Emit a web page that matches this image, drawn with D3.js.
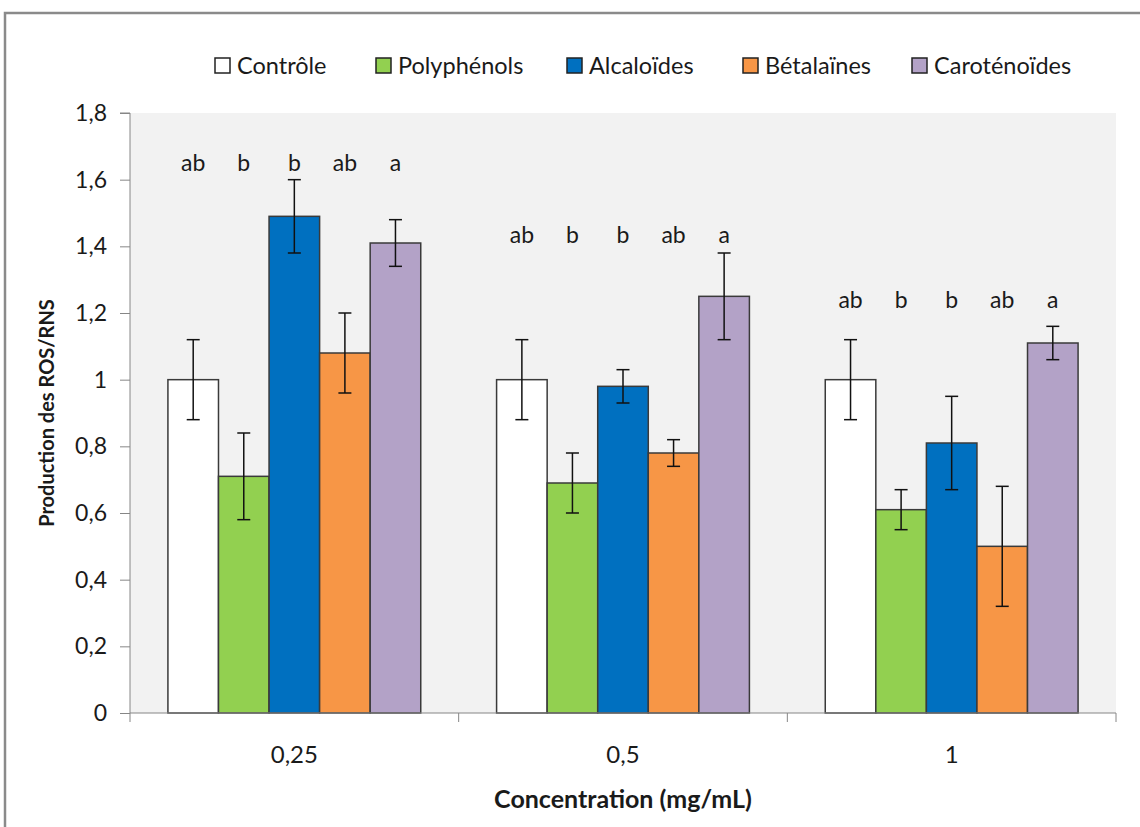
<!DOCTYPE html>
<meta charset="utf-8">
<script src="https://d3js.org/d3.v7.min.js"></script>
<style>
  body { margin: 0; background: #fff; }
  text { font-family: Lato, "Open Sans", sans-serif; fill: #1a1a1a; }
</style>
<svg id="chart" width="1140" height="827"></svg>
<script>

// Data
var categories = ["0,25", "0,5", "1"];
var seriesNames = ["Contrôle", "Polyphénols", "Alcaloïdes", "Bétalaïnes", "Caroténoïdes"];
var controle     = [1.00, 1.00, 1.00];
var polyphenols  = [0.71, 0.69, 0.61];
var alcaloides   = [1.49, 0.98, 0.81];
var betalaines   = [1.08, 0.78, 0.50];
var carotenoides = [1.41, 1.25, 1.11];
var controleErr     = [0.12, 0.12, 0.12];
var polyphenolsErr  = [0.13, 0.09, 0.06];
var alcaloidesErr   = [0.11, 0.05, 0.14];
var betalainesErr   = [0.12, 0.04, 0.18];
var carotenoidesErr = [0.07, 0.13, 0.05];
var letters = ["ab", "b", "b", "ab", "a"];
var letterLevels = [1.65, 1.435, 1.24];   // height of the letter row in each group
var yTicks = [0, 0.2, 0.4, 0.6, 0.8, 1, 1.2, 1.4, 1.6, 1.8];

var values = [controle, polyphenols, alcaloides, betalaines, carotenoides];
var errors = [controleErr, polyphenolsErr, alcaloidesErr, betalainesErr, carotenoidesErr];
var colors = ["#ffffff", "#92d050", "#0070c0", "#f79646", "#b3a2c7"];

var svg = d3.select("#chart");

// outer frame
svg.append("rect")
    .attr("x", 5).attr("y", 13)
    .attr("width", 1200).attr("height", 900)
    .attr("fill", "#fff")
    .attr("stroke", "#8a8a8a")
    .attr("stroke-width", 2.5);

var plotLeft = 130, plotRight = 1116, plotTop = 113, plotBottom = 713;

var x0 = d3.scaleBand().domain(categories).range([plotLeft, plotRight]);
var x1 = d3.scaleBand().domain(seriesNames).range([0, x0.bandwidth()])
    .paddingInner(0).paddingOuter(0.75);
var y = d3.scaleLinear().domain([0, 1.8]).range([plotBottom, plotTop]);

// plot background
svg.append("rect")
    .attr("x", plotLeft).attr("y", plotTop)
    .attr("width", plotRight - plotLeft).attr("height", plotBottom - plotTop)
    .attr("fill", "#f2f2f2");

// y axis
var yAxis = svg.append("g")
    .attr("transform", "translate(" + plotLeft + ",0)")
    .call(d3.axisLeft(y).tickValues(yTicks).tickSize(10).tickPadding(13)
      .tickFormat(function(d){ return String(d).replace(".", ","); }));
yAxis.select(".domain").attr("stroke", "#868686").attr("d", "M-10," + plotTop + "H0V" + plotBottom);
yAxis.selectAll(".tick line").attr("stroke", "#868686");
yAxis.selectAll("text").style("font-size", "23px").attr("fill", "#1a1a1a");

// bars
var rows = [];
categories.forEach(function(c, ci){
  seriesNames.forEach(function(s, si){
    rows.push({cat: c, ci: ci, s: s, si: si, v: values[si][ci], e: errors[si][ci]});
  });
});

svg.append("g").selectAll("rect")
  .data(rows)
  .enter()
  .append("rect")
    .attr("x", function(d){ return x0(d.cat) + x1(d.s); })
    .attr("y", function(d){ return y(d.v); })
    .attr("width", x1.bandwidth())
    .attr("height", function(d){ return y(0) - y(d.v); })
    .attr("fill", function(d){ return colors[d.si]; })
    .attr("stroke", "#3a3a3a")
    .attr("stroke-width", 1.5);

// error bars
var eb = svg.append("g").selectAll("g")
  .data(rows)
  .enter()
  .append("g")
    .attr("stroke", "#111")
    .attr("stroke-width", 1.5);
function cx(d){ return x0(d.cat) + x1(d.s) + x1.bandwidth() / 2; }
eb.append("line")
    .attr("x1", cx).attr("x2", cx)
    .attr("y1", function(d){ return y(d.v + d.e); })
    .attr("y2", function(d){ return y(d.v - d.e); });
eb.append("line")
    .attr("x1", function(d){ return cx(d) - 6.5; }).attr("x2", function(d){ return cx(d) + 6.5; })
    .attr("y1", function(d){ return y(d.v + d.e); })
    .attr("y2", function(d){ return y(d.v + d.e); });
eb.append("line")
    .attr("x1", function(d){ return cx(d) - 6.5; }).attr("x2", function(d){ return cx(d) + 6.5; })
    .attr("y1", function(d){ return y(d.v - d.e); })
    .attr("y2", function(d){ return y(d.v - d.e); });

// significance letters
svg.append("g").selectAll("text")
  .data(rows)
  .enter()
  .append("text")
    .attr("x", cx)
    .attr("y", function(d){ return y(letterLevels[d.ci]); })
    .attr("dy", "0.35em")
    .attr("text-anchor", "middle")
    .style("font-size", "23px")
    .text(function(d){ return letters[d.si]; });

// x axis
svg.append("line")
    .attr("x1", plotLeft).attr("x2", plotRight)
    .attr("y1", plotBottom).attr("y2", plotBottom)
    .attr("stroke", "#868686");
svg.append("g").selectAll("line")
  .data(categories.concat(["end"]))
  .enter()
  .append("line")
    .attr("x1", function(d, i){ return plotLeft + i * x0.bandwidth(); })
    .attr("x2", function(d, i){ return plotLeft + i * x0.bandwidth(); })
    .attr("y1", plotBottom).attr("y2", plotBottom + 9)
    .attr("stroke", "#868686");
svg.append("g").selectAll("text")
  .data(categories)
  .enter()
  .append("text")
    .attr("x", function(d){ return x0(d) + x0.bandwidth() / 2; })
    .attr("y", 763)
    .attr("text-anchor", "middle")
    .style("font-size", "24px")
    .text(function(d){ return d; });

// axis titles
svg.append("text")
    .attr("x", (plotLeft + plotRight) / 2).attr("y", 808)
    .attr("text-anchor", "middle")
    .style("font-size", "25px").style("font-weight", "bold")
    .text("Concentration (mg/mL)");
svg.append("text")
    .attr("transform", "translate(54," + ((plotTop + plotBottom) / 2) + ") rotate(-90)")
    .attr("text-anchor", "middle")
    .style("font-size", "20px").style("font-weight", "bold")
    .text("Production des ROS/RNS");

// legend
var legendX = [215, 376, 567, 743, 912];
var lg = svg.append("g").selectAll("g")
  .data(seriesNames)
  .enter()
  .append("g")
    .attr("transform", function(d, i){ return "translate(" + legendX[i] + ",58)"; });
lg.append("rect")
    .attr("width", 15).attr("height", 15)
    .attr("fill", function(d, i){ return colors[i]; })
    .attr("stroke", "#222").attr("stroke-width", 1.5);
lg.append("text")
    .attr("x", 22).attr("y", 7.5).attr("dy", "0.35em")
    .style("font-size", "23.5px")
    .text(function(d){ return d; });

</script>
